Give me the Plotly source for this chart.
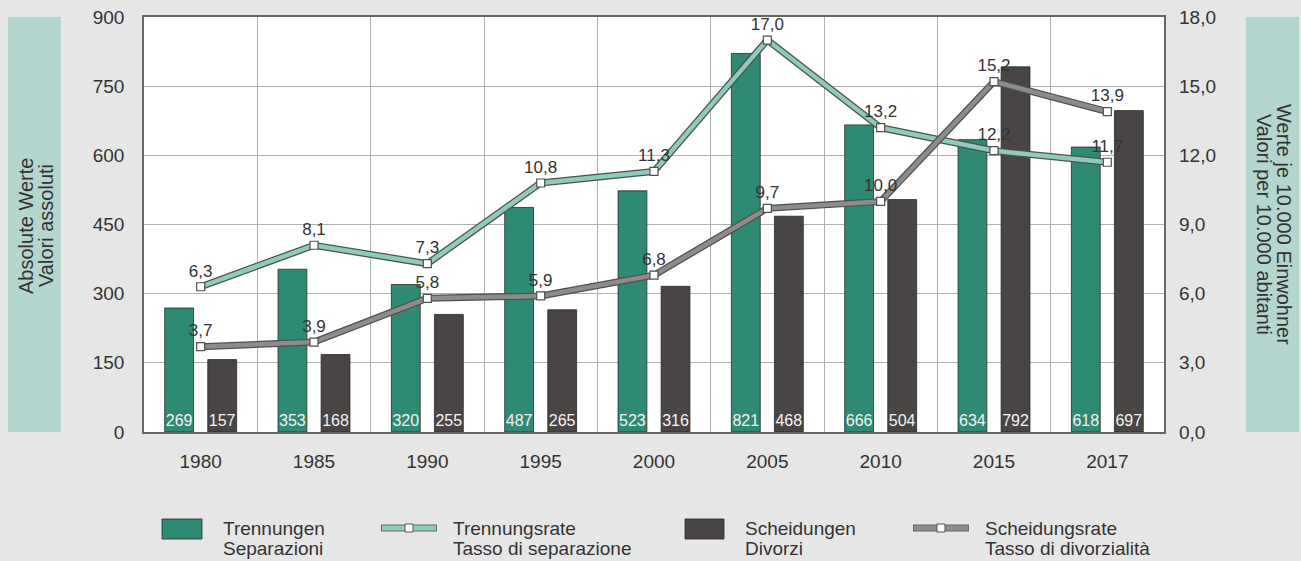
import plotly.graph_objects as go

years = ["1980", "1985", "1990", "1995", "2000", "2005", "2010", "2015", "2017"]
separations = [269, 353, 320, 487, 523, 821, 666, 634, 618]
divorces = [157, 168, 255, 265, 316, 468, 504, 792, 697]
sep_rate = [6.3, 8.1, 7.3, 10.8, 11.3, 17.0, 13.2, 12.2, 11.7]
div_rate = [3.7, 3.9, 5.8, 5.9, 6.8, 9.7, 10.0, 15.2, 13.9]
left_ticks = [0, 150, 300, 450, 600, 750, 900]
right_ticks = [0, 3, 6, 9, 12, 15, 18]

GREEN = "#2f8a74"
DARK = "#4a4545"
LTEAL = "#8ecbbc"
GREY = "#8c8c8c"
OUT = "#505050"
BOX = "#b3d6cf"
BG = "#e6e6e6"
TXT = "#333333"
FONT = "Liberation Sans, Arial, sans-serif"

W, H = 1301, 561
L, R, T, B = 144, 1164, 17, 432


def fmt(v):
    return f"{v:.1f}".replace(".", ",")


fig = go.Figure()
fig.add_trace(go.Bar(x=years, y=separations, name="Trennungen", marker=dict(color=GREEN, line=dict(color="#2a2a2a", width=0.8)),
                     text=[str(v) for v in separations], textposition="inside", insidetextanchor="start",
                     textangle=0, textfont=dict(color="#f2f2f2", size=16, family=FONT), yaxis="y", hoverinfo="skip"))
fig.add_trace(go.Bar(x=years, y=divorces, name="Scheidungen", marker=dict(color=DARK, line=dict(color="#2a2a2a", width=0.8)),
                     text=[str(v) for v in divorces], textposition="inside", insidetextanchor="start",
                     textangle=0, textfont=dict(color="#f2f2f2", size=16, family=FONT), yaxis="y", hoverinfo="skip"))

for rate, col in [(sep_rate, LTEAL), (div_rate, GREY)]:
    fig.add_trace(go.Scatter(x=years, y=rate, yaxis="y2", mode="lines", line=dict(color=OUT, width=7),
                             showlegend=False, hoverinfo="skip"))
    fig.add_trace(go.Scatter(x=years, y=rate, yaxis="y2", mode="lines+markers+text", line=dict(color=col, width=4.5),
                             marker=dict(symbol="square", size=8, color="white", line=dict(color=OUT, width=1.2)),
                             text=[fmt(v) for v in rate], textposition="top center",
                             textfont=dict(size=17, color=TXT, family=FONT), showlegend=False, hoverinfo="skip"))


def px(x):
    return (x - L) / (R - L)


def py(y):
    return (B - y) / (B - T)


shapes = []
annotations = []


def label(x, y, text, angle=0, anchor="center", size=19):
    annotations.append(dict(xref="paper", yref="paper", x=px(x), y=py(y), text=text, textangle=angle,
                            xanchor=anchor, yanchor="middle", showarrow=False,
                            font=dict(size=size, color=TXT, family=FONT)))


# side boxes
shapes.append(dict(type="rect", xref="paper", yref="paper", x0=px(8), x1=px(61), y0=py(432), y1=py(17),
                   fillcolor=BOX, line=dict(width=0), layer="below"))
shapes.append(dict(type="rect", xref="paper", yref="paper", x0=px(1246), x1=px(1299), y0=py(432), y1=py(17),
                   fillcolor=BOX, line=dict(width=0), layer="below"))
label(26, 226, "Absolute Werte", angle=-90, size=20)
label(46, 226, "Valori assoluti", angle=-90, size=20)
label(1284, 224, "Werte je 10.000 Einwohner", angle=90, size=20)
label(1264, 224, "Valori per 10.000 abitanti", angle=90, size=20)

# legend
for x0, x1, col, t1, t2 in [(162, 202, GREEN, "Trennungen", "Separazioni"), (685, 724, DARK, "Scheidungen", "Divorzi")]:
    shapes.append(dict(type="rect", xref="paper", yref="paper", x0=px(x0), x1=px(x1), y0=py(539), y1=py(519),
                       fillcolor=col, line=dict(color="#2a2a2a", width=0.8)))
    label(x1 + 19, 528, t1, anchor="left")
    label(x1 + 19, 548, t2, anchor="left")
for x0, x1, col, t1, t2 in [(381, 437, LTEAL, "Trennungsrate", "Tasso di separazione"),
                            (913, 969, GREY, "Scheidungsrate", "Tasso di divorzialità")]:
    yy = py(528)
    shapes.append(dict(type="line", xref="paper", yref="paper", x0=px(x0), x1=px(x1), y0=yy, y1=yy,
                       line=dict(color="#6a6a6a", width=7)))
    shapes.append(dict(type="line", xref="paper", yref="paper", x0=px(x0 + 1), x1=px(x1 - 1), y0=yy, y1=yy,
                       line=dict(color=col, width=5)))
    xm = (x0 + x1) / 2
    shapes.append(dict(type="rect", xref="paper", yref="paper", x0=px(xm - 4), x1=px(xm + 4), y0=py(532), y1=py(524),
                       fillcolor="white", line=dict(color=OUT, width=1)))
    label(x1 + 14, 528, t1, anchor="left")
    label(x1 + 14, 548, t2, anchor="left")

fig.update_layout(
    width=W, height=H,
    margin=dict(l=L, r=W - R, t=T, b=H - B, pad=0, autoexpand=False),
    paper_bgcolor=BG, plot_bgcolor="white",
    separators=",.",
    barmode="group", bargap=0.24, bargroupgap=0.33,
    showlegend=False,
    uniformtext=dict(minsize=16, mode="show"),
    font=dict(family=FONT, color=TXT, size=19),
    xaxis=dict(type="category", tickson="boundaries", showgrid=True, gridcolor="#b0b0b0", gridwidth=1,
               showline=True, linecolor="#666666", linewidth=1.5, mirror=True, ticks="", automargin=False,
               ticklabelstandoff=11, tickfont=dict(size=19, color=TXT)),
    yaxis=dict(range=[0, 900], tickvals=left_ticks, showgrid=True, gridcolor="#b0b0b0", gridwidth=1,
               showline=True, linecolor="#666666", linewidth=1.5, mirror=True, ticks="", zeroline=False,
               automargin=False, ticklabelstandoff=14, tickfont=dict(size=19, color=TXT)),
    yaxis2=dict(range=[0, 18], tickvals=right_ticks, tickformat=".1f", overlaying="y", side="right",
                showgrid=False, zeroline=False, showline=False, ticks="", ticklabelstandoff=14, automargin=False,
                tickfont=dict(size=19, color=TXT)),
    shapes=shapes, annotations=annotations,
)

fig.write_html("out.html", config={"displayModeBar": False},
               post_script="document.body.style.margin='0px';document.body.style.overflow='hidden';")
